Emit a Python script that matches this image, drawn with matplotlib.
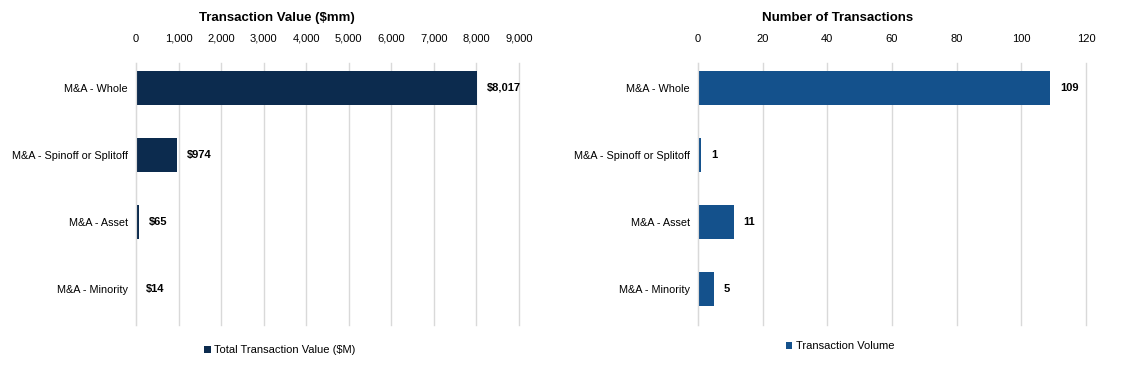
import matplotlib.pyplot as plt
from matplotlib.ticker import FuncFormatter

plt.rcParams['font.family'] = ['Liberation Sans', 'DejaVu Sans']

categories = ["M&A - Whole", "M&A - Spinoff or Splitoff", "M&A - Asset", "M&A - Minority"]
values = [8017, 974, 65, 14]
counts = [109, 1, 11, 5]

value_ticks = list(range(0, 9001, 1000))
count_ticks = list(range(0, 121, 20))

fig = plt.figure(figsize=(11.31, 3.70), dpi=100)
ax1 = fig.add_axes([136 / 1131, 1 - 325 / 370, 383 / 1131, 262 / 370])
ax2 = fig.add_axes([698 / 1131, 1 - 325 / 370, 388 / 1131, 262 / 370])


def style(ax, ticks, fmt):
    ax.set_xlim(ticks[0], ticks[-1])
    ax.set_ylim(3.537, -0.373)
    ax.set_xticks(ticks)
    ax.xaxis.set_major_formatter(FuncFormatter(fmt))
    ax.xaxis.tick_top()
    ax.tick_params(axis='x', length=0, labelsize=8, pad=14, colors='black')
    ax.set_yticks(range(len(categories)))
    ax.set_yticklabels(categories)
    ax.tick_params(axis='y', length=0, labelsize=7.8, pad=6)
    for s in ["top", "right", "bottom"]:
        ax.spines[s].set_visible(False)
    ax.spines["left"].set_color("#D9D9D9")
    ax.grid(axis='x', color='#D9D9D9', linewidth=1)
    for gl in ax.get_xgridlines():
        gl.set_clip_on(False)
    ax.set_axisbelow(True)


# left chart: transaction value
ax1.barh(categories, values, height=0.5, color='#0C2B4E', label='Total Transaction Value ($M)')
style(ax1, value_ticks, lambda v, p: f"{int(v):,}")
for i, v in enumerate(values):
    ax1.annotate(f"${v:,}", (v, i), xytext=(7, 0), textcoords='offset points',
                 va='center', ha='left', fontsize=8, fontweight='bold')
fig.text(277 / 1131, 1 - 18 / 370, "Transaction Value ($mm)", ha='center', va='center',
         fontsize=9.5, fontweight='bold')
ax1.legend(loc='center', bbox_to_anchor=(280 / 1131, 1 - 350 / 370), bbox_transform=fig.transFigure,
           frameon=False, fontsize=8, handlelength=0.6, handleheight=0.6, handletextpad=0.3)

# right chart: number of transactions
ax2.barh(categories, counts, height=0.5, color='#14518C', label='Transaction Volume')
style(ax2, count_ticks, lambda v, p: f"{int(v)}")
for i, v in enumerate(counts):
    ax2.annotate(f"{v}", (v, i), xytext=(7, 0), textcoords='offset points',
                 va='center', ha='left', fontsize=8, fontweight='bold')
fig.text(838 / 1131, 1 - 18 / 370, "Number of Transactions", ha='center', va='center',
         fontsize=9.5, fontweight='bold')
ax2.legend(loc='center', bbox_to_anchor=(840 / 1131, 1 - 346 / 370), bbox_transform=fig.transFigure,
           frameon=False, fontsize=8, handlelength=0.6, handleheight=0.6, handletextpad=0.3)

fig.savefig('out.png', dpi=100)
